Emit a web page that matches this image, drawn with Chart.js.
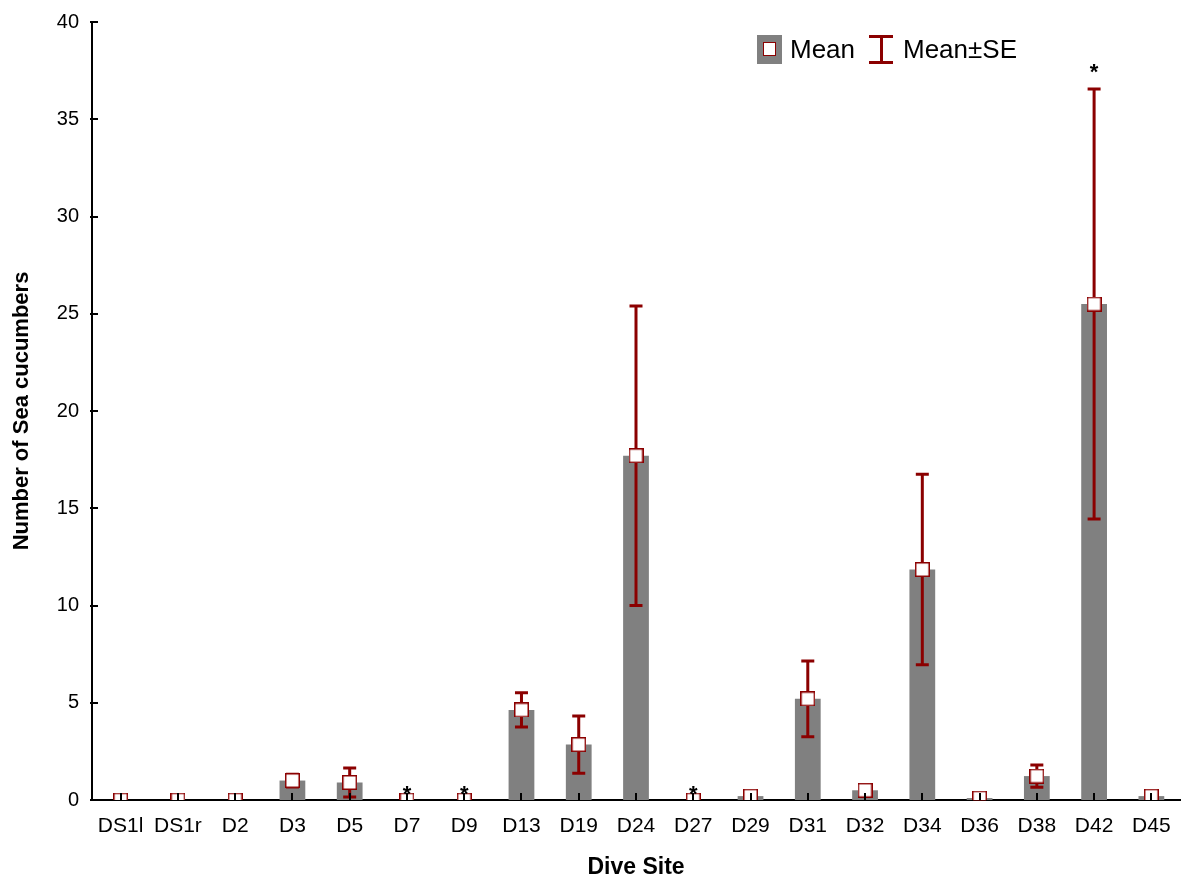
<!DOCTYPE html>
<html>
<head>
<meta charset="utf-8">
<script src="https://cdn.jsdelivr.net/npm/chart.js@4"></script>
<style>
  html, body { margin: 0; background: #fff; overflow: hidden; }
  #wrap { position: relative; width: 1181px; height: 881px; overflow: hidden; }
  .legend { position: absolute; top: 35px; left: 757px; height: 29px; font: 26px Arial, 'Liberation Sans', sans-serif; color: #000; }
  .legend .box { position: absolute; left: 0; top: 0; width: 25px; height: 29px; background: #808080; }
  .legend .box i { position: absolute; left: 6px; top: 7px; width: 11px; height: 12px; background: #fff; border: 1.5px solid #8b0000; }
  .legend .err { position: absolute; left: 112px; top: 0; width: 24px; height: 29px; }
  .legend .err b { position: absolute; left: 0; width: 24px; height: 3px; background: #8b0000; }
  .legend .err s { position: absolute; left: 11px; top: 0; width: 3px; height: 29px; background: #8b0000; }
  .legend span { position: absolute; top: -2px; white-space: nowrap; line-height: 32px; }
</style>
</head>
<body>
<div id="wrap">
  <canvas id="chart"></canvas>
  <div class="legend">
    <div class="box"><i></i></div>
    <span style="left:33px">Mean</span>
    <div class="err"><b style="top:0"></b><s></s><b style="top:26px"></b></div>
    <span style="left:146px">Mean±SE</span>
  </div>
</div>
<script>
// dive sites and counts
let sites = ['DS1l', 'DS1r', 'D2', 'D3', 'D5', 'D7', 'D9', 'D13', 'D19', 'D24', 'D27', 'D29', 'D31', 'D32', 'D34', 'D36', 'D38', 'D42', 'D45']
let means = [0, 0, 0, 1.0, 0.9, 0, 0, 4.63, 2.85, 17.7, 0, 0.2, 5.2, 0.5, 11.85, 0.1, 1.23, 25.5, 0.2]
let se = [0, 0, 0, 0.33, 0.74, 0, 0, 0.88, 1.47, 7.7, 0, 0.1, 1.95, 0.05, 4.9, 0.05, 0.57, 11.05, 0.1]
// asterisk heights (null = no asterisk)
let stars = [null, null, null, null, null, 0.45, 0.45, null, null, null, 0.45, null, null, null, null, null, null, 37.6, null]
let yTicks = [0, 5, 10, 15, 20, 25, 30, 35, 40]

let red = '#8b0000'
let fontFam = "Arial, 'Liberation Sans', sans-serif"

Chart.defaults.color = '#000'
Chart.defaults.font.family = fontFam

// mean marker: white square, dark red edge
let marker = document.createElement('canvas')
marker.width = 15
marker.height = 15
let mctx = marker.getContext('2d')
mctx.fillStyle = '#fff'
mctx.fillRect(0, 0, 15, 15)
mctx.strokeStyle = red
mctx.lineWidth = 1.5
mctx.strokeRect(0.75, 0.75, 13.5, 13.5)

// error bars drawn right after the bars, under the mean markers
let errorBars = {
    id: 'errorBars',
    afterDatasetDraw(chart, args) {
        if (args.index !== 0) return
        let ctx = chart.ctx
        let x = chart.scales.x, y = chart.scales.y
        ctx.save()
        ctx.strokeStyle = red
        ctx.lineWidth = 3
        means.forEach((m, i) => {
            if (!se[i]) return
            let px = x.getPixelForValue(i)
            let top = y.getPixelForValue(m + se[i])
            let bot = y.getPixelForValue(Math.max(m - se[i], 0))
            ctx.beginPath()
            ctx.moveTo(px, top); ctx.lineTo(px, bot)
            ctx.moveTo(px - 6.5, top); ctx.lineTo(px + 6.5, top)
            if (m - se[i] > 0) { ctx.moveTo(px - 6.5, bot); ctx.lineTo(px + 6.5, bot) }
            ctx.stroke()
        })
        ctx.restore()
    }
}

// inward tick marks and asterisks
let extras = {
    id: 'extras',
    afterDraw(chart) {
        let ctx = chart.ctx
        let x = chart.scales.x, y = chart.scales.y
        let area = chart.chartArea
        ctx.save()
        ctx.strokeStyle = '#000'
        ctx.lineWidth = 2
        ctx.beginPath()
        sites.forEach((s, i) => {
            let px = Math.round(x.getPixelForValue(i))
            ctx.moveTo(px, area.bottom); ctx.lineTo(px, area.bottom - 7)
        })
        yTicks.forEach(v => {
            let py = Math.round(y.getPixelForValue(v))
            ctx.moveTo(area.left - 2, py); ctx.lineTo(area.left + 6, py)
        })
        ctx.stroke()
        ctx.fillStyle = '#000'
        ctx.font = 'bold 22px ' + fontFam
        ctx.textAlign = 'center'
        ctx.textBaseline = 'middle'
        stars.forEach((v, i) => {
            if (v === null) return
            ctx.fillText('*', x.getPixelForValue(i), y.getPixelForValue(v) + 4)
        })
        ctx.restore()
    }
}

let ctx = document.getElementById('chart').getContext('2d')
let myChart = new Chart(ctx, {
    type: 'bar',
    data: {
        labels: sites,
        datasets: [{
            label: 'Mean',
            data: means,
            backgroundColor: '#808080',
            barPercentage: 0.9,
            categoryPercentage: 0.5,
            order: 2
        }, {
            type: 'line',
            label: 'Mean±SE',
            data: means,
            showLine: false,
            pointStyle: marker,
            pointRadius: 0.5,
            pointBorderWidth: 0,
            pointHoverRadius: 0.5,
            clip: 0,
            order: 1
        }]
    },
    options: {
        responsive: true,
        maintainAspectRatio: false,
        animation: false,
        layout: { padding: { top: 22, right: 1, left: 0, bottom: 0 } },
        plugins: {
            legend: { display: false },
            tooltip: { enabled: false }
        },
        scales: {
            x: {
                grid: { display: false, drawTicks: false },
                border: { color: '#000', width: 2 },
                ticks: { padding: 14, font: { size: 21 }, maxRotation: 0 },
                title: { display: true, text: 'Dive Site', font: { size: 23, weight: 'bold' }, padding: { top: 0, bottom: 0 } },
                afterFit(scale) {
                    scale.height = 81
                    scale.paddingLeft = 0
                    scale.paddingRight = 0
                }
            },
            y: {
                min: 0,
                max: 40,
                grid: { display: false, drawTicks: false },
                border: { color: '#000', width: 2 },
                ticks: { stepSize: 5, padding: 13, font: { size: 20 } },
                title: { display: true, text: 'Number of Sea cucumbers', font: { size: 22, weight: 'bold' }, padding: { top: 9, bottom: 0 } },
                afterFit(scale) {
                    scale.width = 92
                    scale.paddingTop = 0
                    scale.paddingBottom = 0
                }
            }
        }
    },
    plugins: [errorBars, extras]
})
</script>
</body>
</html>
